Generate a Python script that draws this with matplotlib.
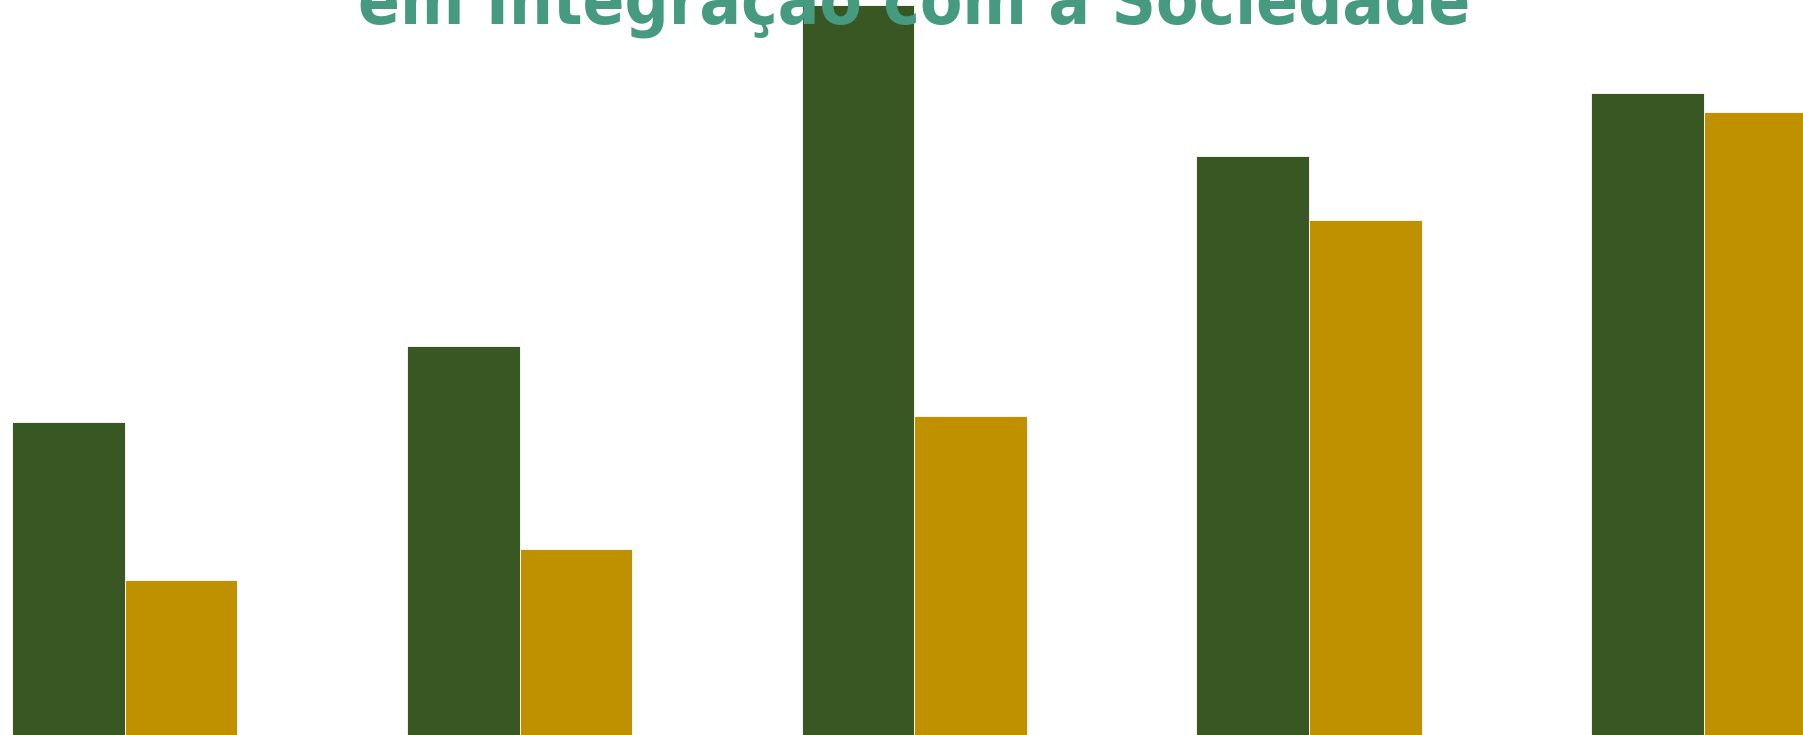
import matplotlib.pyplot as plt
import numpy as np

# dados (alturas, em unidades arbitrárias)
categorias = ['A', 'B', 'C', 'D', 'E']
serie_verde = [312.7, 389.0, 730.0, 578.6, 641.7]
serie_dourada = [155.0, 186.5, 319.0, 515.4, 622.7]
titulo = 'em Integração com a Sociedade'

cor_verde = '#385723'
cor_dourada = '#BF9000'
cor_titulo = '#459A7F'

fig = plt.figure(figsize=(18.03, 7.35), dpi=100)
ax = fig.add_axes([0, 0, 1, 1])

x = np.arange(len(categorias))
largura = 0.2855
ax.bar(x - largura / 2, serie_verde, largura, color=cor_verde,
       edgecolor='#ffffff', linewidth=0.6)
ax.bar(x + largura / 2, serie_dourada, largura, color=cor_dourada,
       edgecolor='#ffffff', linewidth=0.6)

ax.set_xlim(-0.316, 4.251)
ax.set_ylim(0, 735)
ax.axis('off')

# título (a primeira linha fica fora do recorte)
fig.text(0.5072, 1 - 24 / 735, titulo, ha='center', va='baseline',
         fontsize=49.5, fontweight='bold', color=cor_titulo,
         family='DejaVu Sans', fontstretch='condensed')

fig.savefig('out.png', dpi=100)
